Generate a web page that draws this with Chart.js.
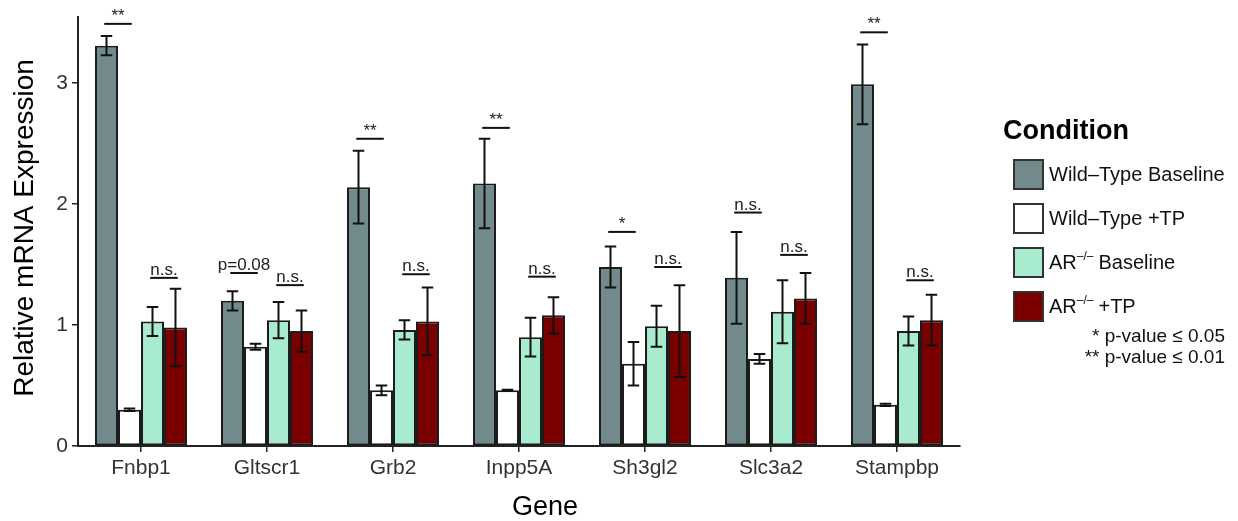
<!DOCTYPE html>
<html lang="en">
<head>
<meta charset="UTF-8">
<title>Relative mRNA Expression</title>
<script src="https://cdn.jsdelivr.net/npm/chart.js"></script>
<style>
  html, body { margin: 0; padding: 0; background: #fff; }
</style>
</head>
<body>
<canvas id="chart" width="1238" height="521"></canvas>
<script>
  // data
  const genes = ['Fnbp1', 'Gltscr1', 'Grb2', 'Inpp5A', 'Sh3gl2', 'Slc3a2', 'Stampbp'];
  const conditions = ['Wild\u2013Type Baseline', 'Wild\u2013Type +TP', 'AR Baseline', 'AR +TP'];

  const wtBase = [3.31, 1.20, 2.14, 2.17, 1.48, 1.39, 2.99];
  const wtTP   = [0.30, 0.82, 0.46, 0.46, 0.68, 0.72, 0.34];
  const arBase = [1.03, 1.04, 0.96, 0.90, 0.99, 1.11, 0.95];
  const arTP   = [0.98, 0.95, 1.03, 1.08, 0.95, 1.22, 1.04];

  // standard errors
  const wtBaseSE = [0.08, 0.08, 0.30, 0.37, 0.17, 0.38, 0.33];
  const wtTPSE   = [0.01, 0.025, 0.04, 0.005, 0.18, 0.04, 0.01];
  const arBaseSE = [0.12, 0.15, 0.08, 0.16, 0.17, 0.26, 0.12];
  const arTPSE   = [0.32, 0.17, 0.28, 0.15, 0.38, 0.21, 0.21];

  // significance marks: wild-type pair and AR pair
  const sigWtLabel = ['**', 'p=0.08', '**', '**', '*', 'n.s.', '**'];
  const sigWtY     = [3.49, 1.43, 2.54, 2.63, 1.77, 1.93, 3.42];
  const sigArLabel = ['n.s.', 'n.s.', 'n.s.', 'n.s.', 'n.s.', 'n.s.', 'n.s.'];
  const sigArY     = [1.39, 1.33, 1.42, 1.40, 1.48, 1.58, 1.37];

  const yTicks = [0, 1, 2, 3];

  const colors = ['#728a8c', '#ffffff', '#a9ebcf', '#7a0000'];
  const seList = [wtBaseSE, wtTPSE, arBaseSE, arTPSE];
  const FONT = '"Liberation Sans", Arial, Helvetica, sans-serif';

  const extras = {
    id: 'extras',
    afterDatasetsDraw(chart) {
      const ctx = chart.ctx, y = chart.scales.y;
      ctx.save();
      // error bars
      ctx.strokeStyle = '#111';
      ctx.lineWidth = 2;
      chart.data.datasets.forEach((ds, i) => {
        const se = seList[i];
        chart.getDatasetMeta(i).data.forEach((bar, j) => {
          const v = ds.data[j];
          const hw = bar.width * 0.25;
          const top = y.getPixelForValue(v + se[j]);
          const bot = y.getPixelForValue(v - se[j]);
          ctx.beginPath();
          ctx.moveTo(bar.x, top); ctx.lineTo(bar.x, bot);
          ctx.moveTo(bar.x - hw, top); ctx.lineTo(bar.x + hw, top);
          ctx.moveTo(bar.x - hw, bot); ctx.lineTo(bar.x + hw, bot);
          ctx.stroke();
        });
      });

      // significance lines + labels
      const pairs = [[0, 1, sigWtLabel, sigWtY], [2, 3, sigArLabel, sigArY]];
      ctx.fillStyle = '#222';
      ctx.font = '17px ' + FONT;
      ctx.textAlign = 'center';
      ctx.textBaseline = 'alphabetic';
      pairs.forEach(([a, b, labels, hs]) => {
        const ma = chart.getDatasetMeta(a).data, mb = chart.getDatasetMeta(b).data;
        genes.forEach((g, j) => {
          const cx = (ma[j].x + mb[j].x) / 2;
          const half = ma[j].width * 0.6;
          const py = y.getPixelForValue(hs[j]);
          ctx.beginPath();
          ctx.moveTo(cx - half, py); ctx.lineTo(cx + half, py);
          ctx.stroke();
          ctx.fillText(labels[j], cx, py - 3);
        });
      });
      ctx.restore();
    },
    afterDraw(chart) {
      const ctx = chart.ctx;
      ctx.save();

      // axis titles
      ctx.fillStyle = '#000';
      ctx.textAlign = 'center';
      ctx.textBaseline = 'alphabetic';
      ctx.font = '27px ' + FONT;
      ctx.fillText('Gene', 545, 515);
      ctx.save();
      ctx.translate(33, 228);
      ctx.rotate(-Math.PI / 2);
      ctx.font = '28px ' + FONT;
      ctx.fillText('Relative mRNA Expression', 0, 0);
      ctx.restore();

      // legend drawn by hand so the AR superscript can be rendered
      ctx.textBaseline = 'middle';
      ctx.textAlign = 'left';
      ctx.font = 'bold 27px ' + FONT;
      ctx.fillText('Condition', 1003, 132);

      chart.data.datasets.forEach((ds, i) => {
        const top = 160 + i * 44;
        ctx.fillStyle = ds.backgroundColor;
        ctx.fillRect(1014, top, 29, 29);
        ctx.strokeStyle = '#333';
        ctx.lineWidth = 2;
        ctx.strokeRect(1014, top, 29, 29);

        ctx.fillStyle = '#111';
        ctx.font = '20px ' + FONT;
        const cy = top + 15;
        if (i < 2) {
          ctx.fillText(ds.label, 1049, cy);
        } else {
          ctx.fillText('AR', 1049, cy);
          let x = 1049 + ctx.measureText('AR').width;
          ctx.font = '12px ' + FONT;
          ctx.fillText('\u2013/\u2013', x, cy - 6);
          x += ctx.measureText('\u2013/\u2013').width + 5;
          ctx.font = '20px ' + FONT;
          ctx.fillText(ds.label.replace('AR ', ''), x, cy);
        }
      });

      ctx.textAlign = 'right';
      ctx.font = '19px ' + FONT;
      ctx.fillText('* p-value \u2264 0.05', 1225, 337);
      ctx.fillText('** p-value \u2264 0.01', 1225, 358);
      ctx.restore();
    }
  };

  const values = [wtBase, wtTP, arBase, arTP];

  new Chart(document.getElementById('chart'), {
    type: 'bar',
    data: {
      labels: genes,
      datasets: conditions.map((c, i) => ({
        label: c,
        data: values[i],
        backgroundColor: colors[i],
        borderColor: '#1c1c1c',
        borderWidth: 2,
        borderSkipped: false,
        categoryPercentage: 0.73,
        barPercentage: 1.0
      }))
    },
    options: {
      responsive: false,
      animation: false,
      layout: { padding: { top: 13, right: 278, left: 0, bottom: 0 } },
      plugins: {
        legend: { display: false },
        tooltip: { enabled: false }
      },
      scales: {
        x: {
          offset: true,
          grid: { display: true, drawOnChartArea: false, offset: false, drawTicks: true, tickLength: 6, color: '#222', lineWidth: 1.5 },
          border: { display: true, color: '#222', width: 2 },
          ticks: { color: '#333', font: { family: FONT, size: 21 }, padding: 4, maxRotation: 0 },
          afterFit(scale) { scale.height = 75; }
        },
        y: {
          min: 0,
          max: 3.55,
          afterBuildTicks(scale) { scale.ticks = yTicks.map(v => ({ value: v })); },
          grid: { display: true, drawOnChartArea: false, drawTicks: true, tickLength: 6, color: '#222', lineWidth: 1.5 },
          border: { display: true, color: '#222', width: 2 },
          ticks: { color: '#333', font: { family: FONT, size: 21 }, padding: 4 },
          afterFit(scale) { scale.width = 78; }
        }
      }
    },
    plugins: [extras]
  });
</script>
</body>
</html>
